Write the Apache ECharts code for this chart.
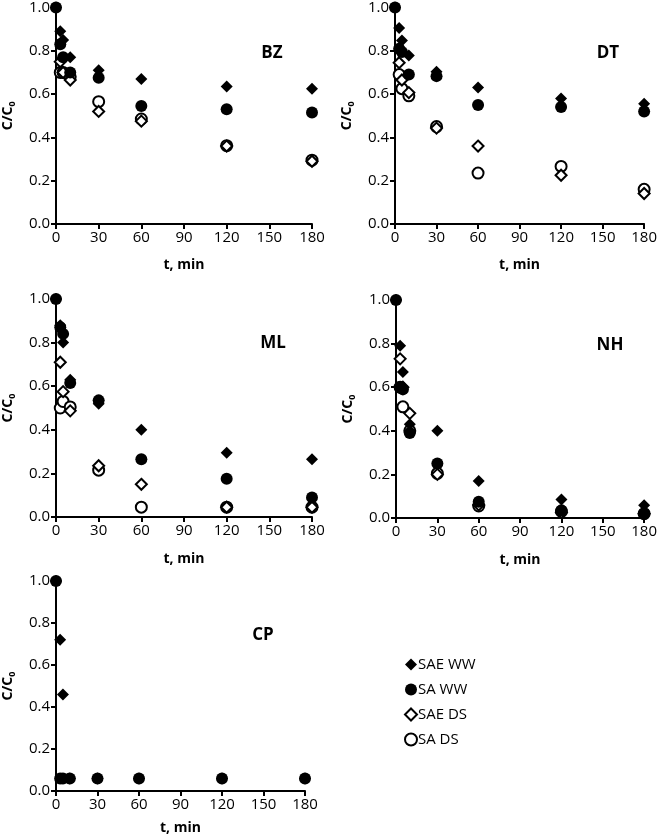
<!DOCTYPE html>
<html><head><meta charset="utf-8">
<script src="https://cdn.jsdelivr.net/npm/echarts/dist/echarts.min.js"></script>
<style>html,body{margin:0;padding:0;background:#fff}#c{width:660px;height:836px}</style>
</head><body><div id="c"></div>
<script>
// ---- data ----
const times = [0, 3, 5, 10, 30, 60, 120, 180];
const seriesNames = ['SAE WW', 'SA WW', 'SAE DS', 'SA DS'];
const panelNames = ['BZ', 'DT', 'ML', 'NH', 'CP'];
const xTicks = [0, 30, 60, 90, 120, 150, 180];
const yTicks = [0.0, 0.2, 0.4, 0.6, 0.8, 1.0];

const BZ_SAE_WW = [1, 0.89, 0.85, 0.77, 0.71, 0.67, 0.635, 0.625];
const BZ_SA_WW  = [1, 0.83, 0.77, 0.70, 0.675, 0.545, 0.53, 0.515];
const BZ_SAE_DS = [null, 0.75, 0.70, 0.665, 0.52, 0.475, 0.36, 0.29];
const BZ_SA_DS  = [null, 0.70, 0.70, 0.68, 0.565, 0.485, 0.362, 0.295];

const DT_SAE_WW = [1, 0.905, 0.847, 0.778, 0.703, 0.63, 0.58, 0.555];
const DT_SA_WW  = [1, 0.81, 0.795, 0.69, 0.683, 0.55, 0.54, 0.52];
const DT_SAE_DS = [null, 0.745, 0.665, 0.607, 0.443, 0.36, 0.225, 0.141];
const DT_SA_DS  = [null, 0.69, 0.625, 0.592, 0.45, 0.235, 0.266, 0.16];

const ML_SAE_WW = [1, 0.88, 0.80, 0.63, 0.52, 0.40, 0.295, 0.265];
const ML_SA_WW  = [1, 0.87, 0.84, 0.615, 0.535, 0.265, 0.175, 0.09];
const ML_SAE_DS = [null, 0.71, 0.575, 0.487, 0.235, 0.15, 0.045, 0.045];
const ML_SA_DS  = [null, 0.50, 0.53, 0.505, 0.215, 0.045, 0.045, 0.045];

const NH_SAE_WW = [1, 0.79, 0.67, 0.43, 0.40, 0.17, 0.085, 0.058];
const NH_SA_WW  = [1, 0.60, 0.59, 0.39, 0.25, 0.075, 0.035, 0.02];
const NH_SAE_DS = [null, 0.73, 0.60, 0.48, 0.20, 0.06, 0.025, 0.02];
const NH_SA_DS  = [null, 0.60, 0.51, 0.40, 0.205, 0.055, 0.03, 0.02];

const CP_SAE_WW = [1, 0.72, 0.46, 0.06, 0.06, 0.06, 0.06, 0.06];
const CP_SA_WW  = [1, 0.06, 0.06, 0.06, 0.06, 0.06, 0.06, 0.06];
const CP_SAE_DS = [null, null, null, null, null, null, null, null];
const CP_SA_DS  = [null, null, null, null, null, null, null, null];

const panelData = [
  [BZ_SAE_WW, BZ_SA_WW, BZ_SAE_DS, BZ_SA_DS],
  [DT_SAE_WW, DT_SA_WW, DT_SAE_DS, DT_SA_DS],
  [ML_SAE_WW, ML_SA_WW, ML_SAE_DS, ML_SA_DS],
  [NH_SAE_WW, NH_SA_WW, NH_SAE_DS, NH_SA_DS],
  [CP_SAE_WW, CP_SA_WW, CP_SAE_DS, CP_SA_DS]
];

// ---- layout ----
const grids = [
  {left: 53, top: 6, width: 259, height: 218},
  {left: 395, top: 6, width: 252, height: 218},
  {left: 52, top: 299, width: 260, height: 218},
  {left: 396, top: 300, width: 252, height: 218},
  {left: 52, top: 581, width: 253, height: 216}
];
const labelPos = [[272, 53], [608, 53], [273, 343], [610, 345], [263, 635]];
const xNameGap = [34, 34, 35, 35, 30];

const FONT = 'Open Sans';
const styles = [
  {symbol: 'diamond', symbolSize: 12, z: 5, itemStyle: {color: '#000', opacity: 1}},
  {symbol: 'circle', symbolSize: 12, z: 4, itemStyle: {color: '#000', opacity: 1}},
  {symbol: 'diamond', symbolSize: 11, z: 3, itemStyle: {color: '#fff', borderColor: '#000', borderWidth: 2, opacity: 1}},
  {symbol: 'circle', symbolSize: 11, z: 2, itemStyle: {color: '#fff', borderColor: '#000', borderWidth: 2, opacity: 1}}
];

const axisLine = {show: true, onZero: false, lineStyle: {color: '#000', width: 2}};
const axisTick = {show: true, inside: false, length: 5, lineStyle: {color: '#000', width: 2}};

const option = {
  animation: false,
  backgroundColor: '#fff',
  grid: grids.map(g => Object.assign({containLabel: false}, g)),
  xAxis: grids.map((g, i) => ({
    gridIndex: i, type: 'value', min: xTicks[0], max: xTicks[xTicks.length - 1], interval: 30,
    name: 't, min', nameLocation: 'middle', nameGap: xNameGap[i],
    nameTextStyle: {fontFamily: FONT, fontWeight: 'bold', fontSize: 14, color: '#000'},
    axisLine, axisTick, splitLine: {show: false},
    axisLabel: {fontFamily: FONT, fontSize: 15, color: '#000', margin: 6}
  })),
  yAxis: grids.map((g, i) => ({
    gridIndex: i, type: 'value', min: yTicks[0], max: yTicks[yTicks.length - 1], interval: 0.2,
    name: '{a|C/C}{b|0}', nameLocation: 'middle', nameGap: 39, nameRotate: 90,
    nameTextStyle: {rich: {
      a: {fontFamily: FONT, fontWeight: 'bold', fontSize: 14, color: '#000', lineHeight: 17},
      b: {fontFamily: FONT, fontWeight: 'bold', fontSize: 9, color: '#000', verticalAlign: 'bottom', lineHeight: 17, padding: [7, 0, 0, 0]}
    }},
    axisLine, axisTick, splitLine: {show: false},
    axisLabel: {fontFamily: FONT, fontSize: 15, color: '#000', margin: 6, formatter: v => v.toFixed(1)}
  })),
  legend: {
    orient: 'vertical', left: 399, top: 651, itemWidth: 12, itemHeight: 12, itemGap: 8,
    data: seriesNames,
    textStyle: {fontFamily: FONT, fontSize: 15, color: '#000', lineHeight: 17, padding: [0, 0, 0, -4]},
    selectedMode: false
  },
  graphic: panelNames.map((n, i) => ({
    type: 'text', x: labelPos[i][0], y: labelPos[i][1], silent: true,
    style: {text: n, fontFamily: FONT, fontWeight: 'bold', fontSize: 17, fill: '#000', textAlign: 'center', textVerticalAlign: 'middle'}
  })),
  series: []
};

panelData.forEach((sets, p) => {
  sets.forEach((vals, s) => {
    option.series.push(Object.assign({
      type: 'scatter', name: seriesNames[s], xAxisIndex: p, yAxisIndex: p,
      data: times.map((t, k) => vals[k] == null ? null : [t, vals[k]]).filter(d => d),
      emphasis: {disabled: true}, clip: false
    }, JSON.parse(JSON.stringify(styles[s]))));
  });
});

const chart = echarts.init(document.getElementById('c'), null, {renderer: 'canvas'});
chart.setOption(option);
</script>
</body></html>
